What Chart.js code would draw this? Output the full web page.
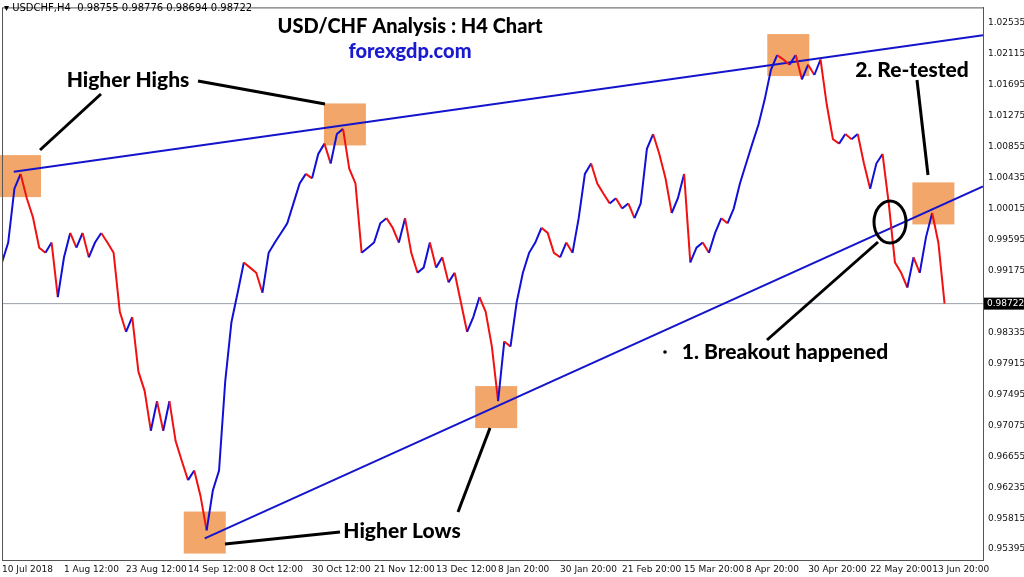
<!DOCTYPE html>
<html>
<head>
<meta charset="utf-8">
<script src="https://cdn.jsdelivr.net/npm/chart.js@4"></script>
<style>
  html, body { margin: 0; padding: 0; background: #fff; }
  #wrap { width: 1024px; height: 577px; }
</style>
</head>
<body>
<div id="wrap"><canvas id="c"></canvas></div>
<script>
// x axis: one slot = a tenth of a date-label interval
const dateLabels = ['10 Jul 2018', '1 Aug 12:00', '23 Aug 12:00', '14 Sep 12:00', '8 Oct 12:00', '30 Oct 12:00',
  '21 Nov 12:00', '13 Dec 12:00', '8 Jan 20:00', '30 Jan 20:00', '21 Feb 20:00', '15 Mar 20:00',
  '8 Apr 20:00', '30 Apr 20:00', '22 May 20:00', '13 Jun 20:00'];
const priceTicks = [0.95395, 0.95815, 0.96235, 0.96655, 0.97075, 0.97495, 0.97915, 0.98335,
  0.99175, 0.99595, 1.00015, 1.00435, 1.00855, 1.01275, 1.01695, 1.02115, 1.02535];
const lastPrice = 0.98722;

// closes, one per slot (approximate)
const closes = [
  0.9928, 0.9955, 1.0028, 1.0048, 1.0015, 0.9989, 0.9948, 0.9941, 0.9955, 0.9881,
  0.9935, 0.9968, 0.9948, 0.9968, 0.9935, 0.9955, 0.9968, 0.9955, 0.9941, 0.9861,
  0.9834, 0.9854, 0.9780, 0.9754, 0.9700, 0.9740, 0.9700, 0.9740, 0.9686, 0.9659,
  0.9633, 0.9646, 0.9612, 0.9565, 0.9619, 0.9646, 0.9767, 0.9847, 0.9887, 0.9928,
  0.9921, 0.9914, 0.9887, 0.9941, 0.9955, 0.9968, 0.9981, 1.0008, 1.0035, 1.0048,
  1.0042, 1.0075, 1.0089, 1.0062, 1.0102, 1.0109, 1.0055, 1.0035, 0.9941, 0.9948,
  0.9955, 0.9981, 0.9988, 0.9975, 0.9955, 0.9988, 0.9941, 0.9914, 0.9921, 0.9955,
  0.9921, 0.9935, 0.9901, 0.9914, 0.9874, 0.9834, 0.9854, 0.9881, 0.9861, 0.9814,
  0.9740, 0.9821, 0.9814, 0.9874, 0.9914, 0.9941, 0.9955, 0.9975, 0.9968, 0.9941,
  0.9935, 0.9955, 0.9941, 0.9988, 1.0048, 1.0062, 1.0035, 1.0021, 1.0008, 1.0015,
  1.0001, 1.0008, 0.9988, 1.0008, 1.0082, 1.0102, 1.0075, 1.0042, 0.9995, 1.0015,
  1.0048, 0.9928, 0.9948, 0.9955, 0.9941, 0.9968, 0.9988, 0.9981, 1.0001, 1.0035,
  1.0062, 1.0089, 1.0115, 1.0149, 1.0189, 1.0209, 1.0203, 1.0196, 1.0209, 1.0176,
  1.0196, 1.0182, 1.0203, 1.0142, 1.0095, 1.0089, 1.0102, 1.0095, 1.0102, 1.0062,
  1.0028, 1.0062, 1.0075, 1.0008, 0.9928, 0.9914, 0.9894, 0.9935, 0.9914, 0.9962,
  0.9995, 0.9955, 0.98722
];

// trend lines [slot, price]
const upperTrend = [[1.9, 1.0051], [158.2, 1.0236]];
const lowerTrend = [[32.7, 0.9554], [158.2, 1.0031]];
// highlighted boxes [slot, price]
const boxes = [[2.9, 1.0045], [55.3, 1.0115], [126.8, 1.0209], [32.7, 0.9562], [79.7, 0.9732], [150.2, 1.0008]];

const pts = closes.map((v, i) => ({ x: i, y: v }));
const BLUE = '#1010d8', RED = '#f21010';

const overlay = {
  id: 'overlay',
  beforeDatasetsDraw(chart) {
    const { ctx, scales: { x, y }, chartArea: a } = chart;
    ctx.save();
    ctx.fillStyle = 'rgba(240,150,80,0.85)';
    boxes.forEach(([s, p]) => {
      ctx.fillRect(x.getPixelForValue(s) - 21, y.getPixelForValue(p) - 21, 42, 42);
    });
    const ly = y.getPixelForValue(lastPrice);
    ctx.strokeStyle = '#9aa0a8';
    ctx.lineWidth = 1;
    ctx.beginPath(); ctx.moveTo(a.left, ly); ctx.lineTo(a.right, ly); ctx.stroke();
    ctx.restore();
  },
  afterDatasetsDraw(chart) {
    const { ctx, scales: { x, y }, chartArea: a } = chart;
    ctx.save();
    // frame
    ctx.strokeStyle = '#555'; ctx.lineWidth = 1;
    ctx.strokeRect(a.left + 0.5, a.top + 0.5, a.right - a.left, a.bottom - a.top);
    // black pointer lines
    ctx.strokeStyle = '#000'; ctx.lineWidth = 3;
    [[40, 150, 101, 94], [198, 81, 325, 104], [225, 544, 340, 532], [458, 512, 490, 428],
     [917, 80, 928, 175], [767, 340, 878, 242]].forEach(l => {
      ctx.beginPath(); ctx.moveTo(l[0], l[1]); ctx.lineTo(l[2], l[3]); ctx.stroke();
    });
    ctx.beginPath(); ctx.ellipse(890, 222, 16, 21, 0, 0, Math.PI * 2); ctx.stroke();
    ctx.beginPath(); ctx.arc(665, 352, 1.8, 0, Math.PI * 2); ctx.fillStyle = '#000'; ctx.fill();

    ctx.textBaseline = 'middle'; ctx.textAlign = 'center';
    ctx.font = '900 20px Lato';
    ctx.fillText('USD/CHF Analysis : H4 Chart', 410, 27);
    ctx.fillStyle = '#1a1ad0';
    ctx.fillText('forexgdp.com', 410, 52);
    ctx.fillStyle = '#000';
    ctx.font = '900 21px Lato';
    ctx.fillText('Higher Highs', 128, 80);
    ctx.fillText('Higher Lows', 402, 531);
    ctx.fillText('2. Re-tested', 912, 70);
    ctx.fillText('1. Breakout happened', 785, 352);

    ctx.textAlign = 'left';
    ctx.font = '10px "DejaVu Sans"';
    ctx.fillText('\u25BE USDCHF,H4  0.98755 0.98776 0.98694 0.98722', 4, 8);

    // last price tag
    const ly = y.getPixelForValue(lastPrice);
    ctx.fillStyle = '#000';
    ctx.fillRect(a.right + 1, ly - 6, 40, 12);
    ctx.fillStyle = '#fff';
    ctx.font = '9px "DejaVu Sans"';
    ctx.fillText('0.98722', a.right + 4, ly);
    ctx.restore();
  }
};

new Chart(document.getElementById('c'), {
  type: 'line',
  data: {
    datasets: [
      {
        data: pts,
        borderWidth: 2,
        pointRadius: 0,
        tension: 0,
        borderColor: BLUE,
        segment: { borderColor: c => c.p1.parsed.y < c.p0.parsed.y ? RED : BLUE }
      },
      { data: upperTrend.map(p => ({ x: p[0], y: p[1] })), borderColor: '#1414cc', borderWidth: 2, pointRadius: 0 },
      { data: lowerTrend.map(p => ({ x: p[0], y: p[1] })), borderColor: '#1414cc', borderWidth: 2, pointRadius: 0 }
    ]
  },
  options: {
    responsive: true,
    maintainAspectRatio: false,
    animation: false,
    layout: { padding: { left: 2, top: 2, right: 0, bottom: 0 } },
    plugins: { legend: { display: false }, tooltip: { enabled: false } },
    scales: {
      x: {
        type: 'linear', min: 0, max: 158.2,
        grid: { display: false, drawTicks: true, tickLength: 3 },
        border: { color: '#555' },
        afterBuildTicks: s => { s.ticks = dateLabels.map((_, i) => ({ value: i * 10 })); },
        afterFit: s => { s.height = 17; },
        ticks: { autoSkip: false, maxRotation: 0, padding: 1, align: 'start',
          font: { size: 9, family: 'DejaVu Sans' }, color: '#111',
          callback: v => dateLabels[Math.round(v / 10)] }
      },
      y: {
        position: 'right', min: 0.95248, max: 1.02736,
        grid: { display: false, tickLength: 3 },
        border: { color: '#555' },
        afterBuildTicks: s => { s.ticks = priceTicks.map(v => ({ value: v })); },
        afterFit: s => { s.width = 41; },
        ticks: { padding: 2, font: { size: 9, family: 'DejaVu Sans' }, color: '#111',
          callback: v => v.toFixed(5) }
      }
    }
  },
  plugins: [overlay]
});
</script>
</body>
</html>
